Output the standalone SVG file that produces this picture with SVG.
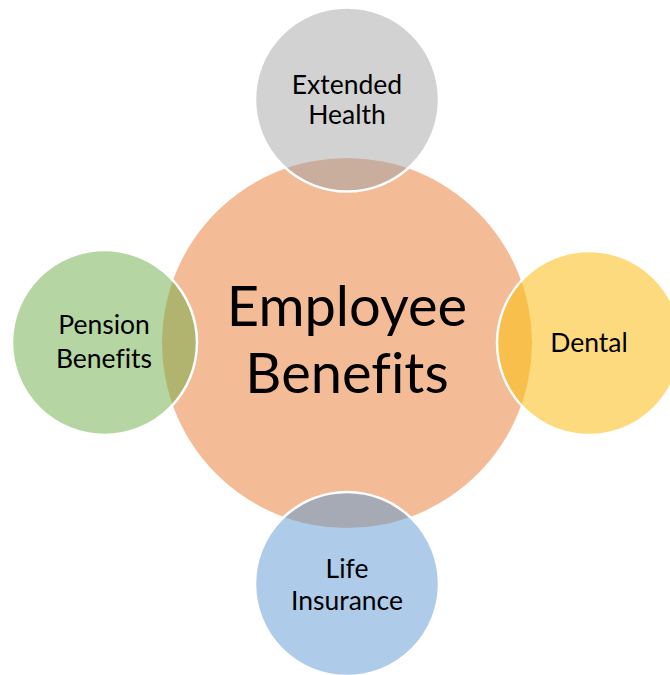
<svg xmlns="http://www.w3.org/2000/svg" width="670" height="675" viewBox="0 0 670 675">
  <style>
    .lbl { font-family: Lato, "Open Sans", "Liberation Sans", sans-serif; font-size: 26.5px; fill: #000; text-anchor: middle; font-variant-ligatures: none; }
    .big { font-family: Lato, "Open Sans", "Liberation Sans", sans-serif; font-size: 56px; fill: #000; text-anchor: middle; font-variant-ligatures: none; }
  </style>
  <defs>
    <clipPath id="centerClip">
      <circle cx="347" cy="343" r="185"/>
    </clipPath>
  </defs>
  <rect width="670" height="675" fill="#ffffff"/>

  <g id="center">
    <circle cx="347" cy="343" r="185" fill="#F4BB97"/>
  </g>

  <g id="extended-health">
    <circle cx="347" cy="99.5" r="92" fill="#D2D2D2"/>
    <circle cx="347" cy="99.5" r="92" fill="#C9AE9E" clip-path="url(#centerClip)"/>
    <circle cx="347" cy="99.5" r="92" fill="none" stroke="#ffffff" stroke-width="2.5"/>
    <text class="lbl" x="347" y="94">Extended</text>
    <text class="lbl" x="347" y="124">Health</text>
  </g>

  <g id="pension-benefits">
    <circle cx="104.5" cy="342.5" r="92.5" fill="#B5D5A2"/>
    <circle cx="104.5" cy="342.5" r="92.5" fill="#B1B46E" clip-path="url(#centerClip)"/>
    <circle cx="104.5" cy="342.5" r="92.5" fill="none" stroke="#ffffff" stroke-width="2.5"/>
    <text class="lbl" x="104" y="334">Pension</text>
    <text class="lbl" x="104" y="368">Benefits</text>
  </g>

  <g id="dental">
    <circle cx="589" cy="343" r="92" fill="#FEDA7E"/>
    <circle cx="589" cy="343" r="92" fill="#F9BF4C" clip-path="url(#centerClip)"/>
    <circle cx="589" cy="343" r="92" fill="none" stroke="#ffffff" stroke-width="2.5"/>
    <text class="lbl" x="589" y="352">Dental</text>
  </g>

  <g id="life-insurance">
    <circle cx="347" cy="584" r="92" fill="#AECBE9"/>
    <circle cx="347" cy="584" r="92" fill="#A6AAB5" clip-path="url(#centerClip)"/>
    <circle cx="347" cy="584" r="92" fill="none" stroke="#ffffff" stroke-width="2.5"/>
    <text class="lbl" x="347" y="578">Life</text>
    <text class="lbl" x="347" y="610">Insurance</text>
  </g>

  <g id="center-label">
    <text class="big" x="347" y="326">Employee</text>
    <text class="big" x="347" y="393">Benefits</text>
  </g>

  <g id="connectors"></g>
</svg>
